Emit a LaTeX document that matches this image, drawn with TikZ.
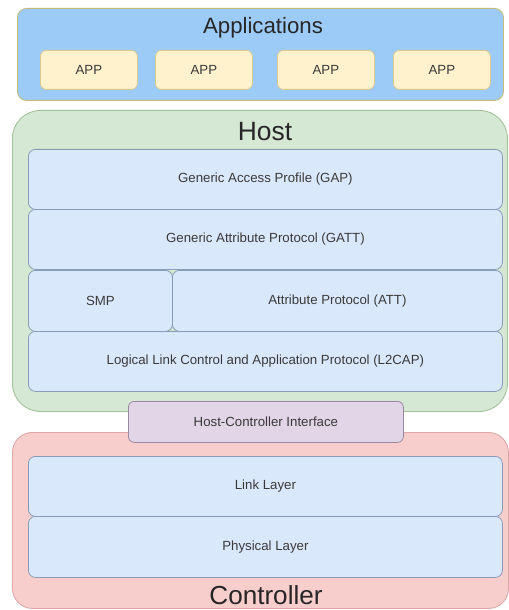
\documentclass[tikz,border=0pt]{standalone}
\usepackage{fontspec}
\setmainfont{Liberation Sans}
\usetikzlibrary{positioning}
\definecolor{appfill}{HTML}{9DCBF7}
\definecolor{appline}{HTML}{C4BA7E}
\definecolor{appboxfill}{HTML}{FFF2CC}
\definecolor{appboxline}{HTML}{DCC98E}
\definecolor{hostfill}{HTML}{D5E8D4}
\definecolor{hostline}{HTML}{A3C29A}
\definecolor{layerfill}{HTML}{DAE8FC}
\definecolor{layerline}{HTML}{8A9CB8}
\definecolor{hcifill}{HTML}{E1D5E7}
\definecolor{hciline}{HTML}{9A87A2}
\definecolor{ctrlfill}{HTML}{F8CECC}
\definecolor{ctrlline}{HTML}{DDA8A8}
\definecolor{labelgray}{HTML}{3A3A3A}
\tikzset{
  group/.style={line width=0.9bp, anchor=north west, inner sep=0pt},
  layer/.style={draw=layerline, fill=layerfill, line width=0.8bp, rounded corners=7bp,
    anchor=north west, inner sep=0pt, minimum width=474bp, minimum height=60bp,
    text=labelgray, font=\fontsize{13.3}{15}\selectfont},
  appbox/.style={draw=appboxline, fill=appboxfill, line width=0.8bp, rounded corners=6bp,
    anchor=north west, inner sep=0pt, minimum width=97bp, minimum height=39bp,
    text=labelgray, font=\fontsize{13.3}{15}\selectfont},
  grouptitle/.style={text=black!85, inner sep=0pt}
}
\begin{document}
\begin{tikzpicture}[x=1bp,y=-1bp]
  \useasboundingbox (0,0) rectangle (509,610);
  % applications
  \node[group, draw=appline, fill=appfill, rounded corners=9bp,
        minimum width=486bp, minimum height=92bp] (apps) at (17,8) {};
  \node[grouptitle, font=\fontsize{22.3}{25}\selectfont] (appstitle) at (263,28) {Applications};
  \foreach \x/\n in {40/1,155/2,277/3,393/4}
    \node[appbox] (app\n) at (\x,50) {APP};
  % host stack
  \node[group, draw=hostline, fill=hostfill, rounded corners=28bp,
        minimum width=495bp, minimum height=301bp] (host) at (12,110) {};
  \node[grouptitle, font=\fontsize{26.5}{29}\selectfont] (hosttitle) at (265,132) {Host};
  \node[layer] (gap) at (28,149) {Generic Access Profile (GAP)};
  \node[layer] (gatt) at (28,209) {Generic Attribute Protocol (GATT)};
  \node[layer, minimum width=144bp, minimum height=61bp] (smp) at (28,270) {SMP};
  \node[layer, minimum width=330bp, minimum height=61bp] (att) at (172,270) {Attribute Protocol (ATT)};
  \node[layer] (l2cap) at (28,331) {Logical Link Control and Application Protocol (L2CAP)};
  % controller stack
  \node[group, draw=ctrlline, fill=ctrlfill, rounded corners=20bp,
        minimum width=496bp, minimum height=176bp] (ctrl) at (12,432) {};
  \node[grouptitle, font=\fontsize{26.2}{29}\selectfont] (ctrltitle) at (266,595) {Controller};
  \node[layer] (link) at (28,456) {Link Layer};
  \node[layer, minimum height=61bp] (phy) at (28,516) {Physical Layer};
  % interface between the two
  \node[layer, draw=hciline, fill=hcifill, rounded corners=6bp,
        minimum width=275bp, minimum height=41bp] (hci) at (128,401) {Host-Controller Interface};
\end{tikzpicture}
\end{document}
